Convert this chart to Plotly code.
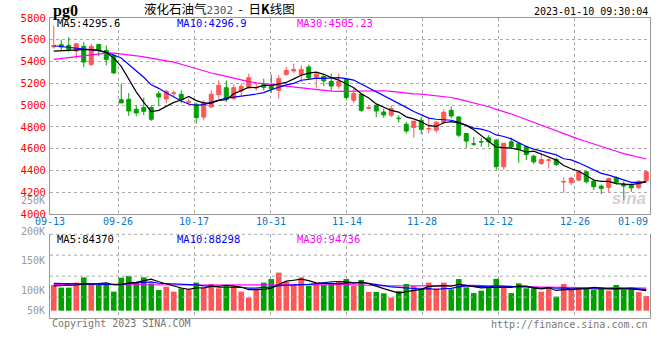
import plotly.graph_objects as go

# ---------------- data ----------------
DATES = ["09-13","09-14","09-15","09-16","09-19","09-20","09-21","09-22","09-23","09-26",
         "09-27","09-28","09-29","09-30","10-10","10-11","10-12","10-13","10-14","10-17",
         "10-18","10-19","10-20","10-21","10-24","10-25","10-26","10-27","10-28","10-31",
         "11-01","11-02","11-03","11-04","11-07","11-08","11-09","11-10","11-11","11-14",
         "11-15","11-16","11-17","11-18","11-21","11-22","11-23","11-24","11-25","11-28",
         "11-29","11-30","12-01","12-02","12-05","12-06","12-07","12-08","12-09","12-12",
         "12-13","12-14","12-15","12-16","12-19","12-20","12-21","12-22","12-23","12-26",
         "12-27","12-28","12-29","12-30","01-03","01-04","01-05","01-06","01-09","01-10"]

OPEN = [5535,5555,5548,5496,5539,5374,5557,5502,5456,5050,
        5053,4962,4977,4977,5105,5056,5108,5099,5027,5008,
        4890,4983,5096,5160,5059,5130,5157,5158,5188,5188,
        5136,5282,5313,5279,5350,5258,5264,5218,5175,5236,
        5044,5099,4970,4998,4937,4907,4880,4824,4794,4861,
        4780,4769,4840,4952,4891,4739,4645,4666,4699,4678,
        4433,4663,4647,4617,4531,4464,4493,4501,4294,4287,
        4311,4388,4302,4256,4244,4336,4275,4265,4244,4305]
HIGH = [5730,5600,5624,5570,5578,5563,5563,5548,5472,5197,
        5111,4998,5069,4998,5130,5142,5136,5136,5060,5020,
        5045,5136,5227,5227,5188,5197,5289,5197,5243,5279,
        5273,5350,5380,5365,5371,5304,5273,5288,5288,5243,
        5157,5105,5002,5002,4968,4998,4907,4846,4855,4891,
        4885,4850,4962,4985,4900,4745,4708,4700,4724,4690,
        4653,4702,4660,4630,4545,4556,4525,4520,4336,4340,
        4395,4395,4320,4270,4336,4345,4300,4282,4311,4395]
LOW = [5520,5505,5487,5426,5349,5359,5447,5365,5288,5020,
       4901,4898,4907,4855,4989,5020,5075,5020,4998,4830,
       4860,4975,5060,5029,5045,5090,5151,5136,5136,5114,
       5060,5270,5298,5212,5236,5160,5175,5130,5151,5044,
       5020,4937,4962,4889,4882,4891,4840,4739,4699,4733,
       4739,4748,4830,4880,4708,4608,4623,4617,4617,4403,
       4409,4600,4470,4495,4458,4450,4418,4440,4195,4265,
       4300,4281,4220,4183,4195,4270,4128,4204,4230,4300]
CLOSE = [5545,5535,5511,5563,5395,5539,5508,5420,5295,5020,
         4946,4928,4943,4870,5075,5127,5112,5050,5031,4885,
         5025,5099,5182,5053,5160,5172,5252,5162,5163,5151,
         5243,5319,5328,5328,5250,5285,5222,5175,5218,5070,
         5108,4952,4978,4946,4910,4968,4876,4762,4853,4777,
         4785,4843,4934,4900,4724,4670,4641,4662,4663,4434,
         4650,4617,4595,4545,4479,4500,4496,4455,4298,4330,
         4388,4296,4250,4235,4325,4290,4256,4240,4300,4388]

MA5 = [5495,5500,5505,5510,5510,5509,5503,5485,5431,5356,
       5238,5122,5026,4941,4952,4989,5025,5047,5079,5041,
       5021,5018,5044,5049,5104,5133,5164,5160,5182,5180,
       5194,5208,5241,5274,5294,5302,5283,5252,5230,5194,
       5159,5105,5065,5011,4979,4951,4936,4892,4874,4847,
       4811,4804,4838,4848,4837,4814,4774,4719,4672,4614,
       4610,4605,4592,4568,4577,4547,4523,4495,4446,4416,
       4393,4353,4312,4300,4299,4279,4271,4269,4282,4295.6]
MA10 = [5545,5538,5530,5522,5515,5508,5500,5485,5462,5433,
        5373,5313,5256,5186,5154,5113,5074,5037,5010,4997,
        5005,5022,5046,5064,5072,5077,5091,5102,5115,5142,
        5164,5186,5200,5228,5237,5248,5245,5246,5252,5244,
        5230,5194,5159,5120,5086,5055,5020,4979,4942,4913,
        4881,4870,4865,4861,4842,4812,4789,4779,4760,4726,
        4712,4690,4656,4620,4596,4579,4564,4543,4507,4497,
        4470,4438,4404,4373,4357,4336,4312,4291,4291,4296.9]
MA30 = [5420,5428,5435,5443,5452,5463,5472,5477,5478,5472,
        5463,5453,5443,5432,5420,5408,5395,5375,5355,5332,
        5310,5295,5280,5262,5245,5230,5215,5205,5197,5191,
        5181,5173,5167,5159,5155,5146,5137,5128,5126,5127,
        5133,5134,5135,5137,5132,5127,5119,5109,5103,5100,
        5092,5083,5075,5070,5055,5038,5018,5001,4985,4961,
        4941,4918,4893,4867,4841,4815,4791,4767,4736,4712,
        4688,4666,4642,4618,4598,4576,4555,4538,4519,4505.23]

# volume in thousands of lots
VOLUME_K = [108,97,97,118,140,108,108,110,80,139,
            146,121,140,115,87,101,80,94,87,118,
            98,112,94,108,104,80,55,89,118,133,
            160,121,108,140,104,112,108,112,125,133,
            104,129,79,79,73,55,83,112,104,94,
            118,94,118,90,133,98,74,84,98,134,
            98,74,115,94,94,80,98,59,112,94,
            98,98,87,94,84,108,87,87,78,62]
VOL_MA5_K = [104,105,106,108,112,112,114.2,116.8,109.2,109,
             116.6,119.2,125.2,132.2,121.8,112.8,104.6,95.4,89.8,96,
             95.4,101.8,101.8,106,103.2,99.6,88.2,87.2,89.2,95,
             111,124.2,128,132.4,126.6,117,114.4,115.2,112.2,118,
             116.4,120.6,114,104.8,92.8,83,73.8,80.4,85.4,89.6,
             102.2,104.4,105.6,102.8,110.6,106.6,102.6,95.8,97.4,97.6,
             97.6,97.6,103.8,103,95,91.4,96.2,85,88.6,88.6,
             92.2,92.2,97.8,94.2,92.2,94.2,92,92,88.4,84.37]
VOL_MA10_K = [115,114,113,113,112,112,112,111,111,110.5,
              114.3,116.7,121,120.7,115.4,114.7,111.9,110.3,111,108.9,
              104.1,103.2,98.6,97.9,99.6,97.5,95,94.5,97.6,99.1,
              105.3,106.2,107.6,110.8,110.8,114,119.3,121.6,122.3,122.3,
              116.7,117.5,114.6,108.5,105.4,99.7,97.2,97.2,95.1,91.2,
              92.6,89.1,93,94.1,100.1,104.4,103.5,100.7,100.1,104.1,
              102.1,100.1,99.8,100.2,96.3,94.5,96.9,94.4,95.8,91.8,
              91.8,94.2,91.4,91.4,90.4,93.2,92.1,94.9,91.5,88.298]
VOL_MA30_K = [111,111,111,110.5,110.5,110,110,110,110,109.5,
              109.5,109,109,109,108.5,108.5,108,108,108,107.5,
              107.5,107,107,107,106.5,106.5,106.5,106.5,106.3,106.2,
              107.9,108.7,109.1,109.8,108.6,108.7,108.7,108.8,110.3,110.1,
              108.7,109,106.9,105.7,105.3,103.7,103.8,104.4,105,104.2,
              104.9,104.3,105.1,104.5,105.4,106,106.7,106.5,105.8,105.9,
              103.8,102.2,102.5,100.9,100.6,99.5,99.2,97.4,97,95.7,
              95.5,94.5,94.7,95.2,95.6,97.4,97.5,96.7,95.8,94.736]

PRICE_TICKS = [4000, 4200, 4400, 4600, 4800, 5000, 5200, 5400, 5600, 5800]
X_TICK_LABELS = ["09-13","09-26","10-17","10-31","11-14","11-28","12-12","12-26","01-09"]
VOL_TICK_LABELS = ["250K","200K","150K","100K","50K"]

TITLE_NAME = "液化石油气"
TITLE_CODE = "2302"
TIMESTAMP = "2023-01-10 09:30:04"

# ---------------- styling ----------------
RED = "#ff5555"
GREEN = "#00a000"
GRID = "#aaaaaa"
AXIS = "#999999"
MONO = "DejaVu Sans Mono"
CJK = "Noto Sans CJK SC"
X = list(range(len(DATES)))

# grid positions (index units) as drawn by the reference
GRID_POS = [-0.5, 8.6, 18.75, 28.9, 39.05, 49.1, 59.25, 69.45, 79.5]

fig = go.Figure()

fig.add_trace(go.Candlestick(
    x=X, open=OPEN, high=HIGH, low=LOW, close=CLOSE,
    increasing=dict(line=dict(color=RED, width=1), fillcolor=RED),
    decreasing=dict(line=dict(color=GREEN, width=1), fillcolor=GREEN),
    whiskerwidth=0, hoverinfo="skip", xaxis="x", yaxis="y"))

for ser, col in ((MA30, "#ff00ff"), (MA10, "#0000ff"), (MA5, "#000000")):
    fig.add_trace(go.Scatter(x=X, y=ser, mode="lines", line=dict(color=col, width=1.2),
                             hoverinfo="skip", xaxis="x", yaxis="y"))

vol_colors = [RED if c >= o else GREEN for o, c in zip(OPEN, CLOSE)]
fig.add_trace(go.Bar(x=X, y=VOLUME_K, marker=dict(color=vol_colors, line=dict(width=0)),
                     hoverinfo="skip", xaxis="x2", yaxis="y2"))
for ser, col in ((VOL_MA30_K, "#ff00ff"), (VOL_MA10_K, "#0000ff"), (VOL_MA5_K, "#000000")):
    fig.add_trace(go.Scatter(x=X, y=ser, mode="lines", line=dict(color=col, width=1.2),
                             hoverinfo="skip", xaxis="x2", yaxis="y2"))

TOP_H = 300.0  # plot height in px (t=18, b=42)
def py(px):
    return (318.0 - px) / TOP_H
def px_x(px):
    return (px - 50.0) / 600.0

anns = []
# header
anns.append(dict(text="<b>pg0</b>", x=px_x(51), y=py(10.5), xref="paper", yref="paper",
                 xanchor="left", yanchor="middle", showarrow=False,
                 font=dict(family="Liberation Serif", size=16, color="#000")))
anns.append(dict(text=TITLE_NAME + "<span style='color:#555;font-family:DejaVu Sans Mono;font-size:11px'>"
                 + TITLE_CODE + "</span>  -  日<b>K</b>线图",
                 x=px_x(219), y=py(8.5), xref="paper", yref="paper", xanchor="center", yanchor="middle",
                 showarrow=False, font=dict(family=CJK, size=12.5, color="#000")))
anns.append(dict(text=TIMESTAMP, x=px_x(649.5), y=py(11.5), xref="paper", yref="paper",
                 xanchor="right", yanchor="middle", showarrow=False,
                 font=dict(family=MONO, size=10, color="#000")))
# MA legends
for txt, col, xp in (("MA5:" + str(MA5[-1]), "#000000", 54.5),
                     ("MA10:" + str(MA10[-1]), "#0000ff", 174.5),
                     ("MA30:" + str(MA30[-1]), "#ff00ff", 295)):
    anns.append(dict(text=txt, x=px_x(xp), y=py(23.5), xref="paper", yref="paper",
                     xanchor="left", yanchor="middle", showarrow=False,
                     font=dict(family=MONO, size=10.5, color=col)))
for txt, col, xp in (("MA5:" + str(round(VOL_MA5_K[-1] * 1000)), "#000000", 54.5),
                     ("MA10:" + str(round(VOL_MA10_K[-1] * 1000)), "#0000ff", 174.5),
                     ("MA30:" + str(round(VOL_MA30_K[-1] * 1000)), "#ff00ff", 295)):
    anns.append(dict(text=txt, x=px_x(xp), y=py(238.5), xref="paper", yref="paper",
                     xanchor="left", yanchor="middle", showarrow=False,
                     font=dict(family=MONO, size=10.5, color=col)))
# x tick labels
for i, (lab, pos) in enumerate(zip(X_TICK_LABELS, GRID_POS)):
    last = i == len(X_TICK_LABELS) - 1
    anns.append(dict(text=lab, x=pos, y=py(221), xref="x", yref="paper",
                     xanchor="right" if last else "center", yanchor="middle", showarrow=False,
                     font=dict(family=MONO, size=10, color="#0a78c8")))
# volume labels
for lab, ypx in zip(VOL_TICK_LABELS, (200.7, 231.2, 260.7, 290.0, 310.7)):
    anns.append(dict(text=lab, x=px_x(46.5), y=py(ypx), xref="paper", yref="paper",
                     xanchor="right", yanchor="middle", showarrow=False,
                     font=dict(family=MONO, size=10, color="#999999")))
# footer
anns.append(dict(text="Copyright 2023 SINA.COM", x=0, y=py(323.5), xref="paper", yref="paper",
                 xanchor="left", yanchor="middle", showarrow=False,
                 font=dict(family=MONO, size=10, color="#777777")))
anns.append(dict(text="http://finance.sina.com.cn", x=px_x(649.5), y=py(324.5), xref="paper", yref="paper",
                 xanchor="right", yanchor="middle", showarrow=False,
                 font=dict(family=MONO, size=10, color="#777777")))
# watermark
anns.append(dict(text="<b><i>sina</i></b>", x=px_x(648), y=py(199), xref="paper", yref="paper",
                 xanchor="right", yanchor="middle", showarrow=False,
                 font=dict(family="Liberation Sans", size=17, color="rgba(170,170,170,0.55)")))

shapes = []
for frac in (0.25, 0.5, 0.75, 1.0):
    shapes.append(dict(type="line", xref="x2 domain", yref="y2 domain", x0=0, x1=1, y0=frac, y1=frac,
                       line=dict(color=GRID, width=1, dash="dot")))

fig.update_layout(
    width=660, height=360, margin=dict(l=50, r=10, t=18, b=42, autoexpand=False),
    paper_bgcolor="white", plot_bgcolor="white", showlegend=False, hovermode=False,
    bargap=0.25, boxgap=0.25,
    xaxis=dict(domain=[0, 1], anchor="y", range=[-0.5, 79.5], tickvals=GRID_POS, showticklabels=False,
               ticks="", showgrid=True, gridcolor=GRID, griddash="dot", gridwidth=1, automargin=False,
               showline=True, linecolor=AXIS, linewidth=1, mirror=True, zeroline=False,
               rangeslider=dict(visible=False)),
    yaxis=dict(domain=[py(214), 1], anchor="x", range=[4000, 5800], tickvals=PRICE_TICKS,
               ticktext=[str(v) for v in PRICE_TICKS], ticks="", ticklabelstandoff=1, automargin=False,
               tickfont=dict(family=MONO, size=10.5, color="#ff0000"),
               showgrid=True, gridcolor=GRID, griddash="dot", gridwidth=1,
               showline=True, linecolor=AXIS, linewidth=1, mirror=True, zeroline=False),
    xaxis2=dict(domain=[0, 1], anchor="y2", matches="x", range=[-0.5, 79.5], tickvals=GRID_POS,
                showticklabels=False, ticks="", showgrid=True, gridcolor=GRID, griddash="dot",
                automargin=False, showline=True, linecolor=AXIS, linewidth=1, zeroline=False),
    yaxis2=dict(domain=[0, py(234.3)], anchor="x2", range=[-30.7, 321], showticklabels=False,
                ticks="", showgrid=False, showline=True, linecolor=AXIS, linewidth=1, mirror=True,
                zeroline=False, automargin=False),
    annotations=anns, shapes=shapes,
)

fig.write_html("out.html", config={"displayModeBar": False, "staticPlot": True},
               post_script="document.body.style.margin='0px';document.body.style.padding='0px';")
